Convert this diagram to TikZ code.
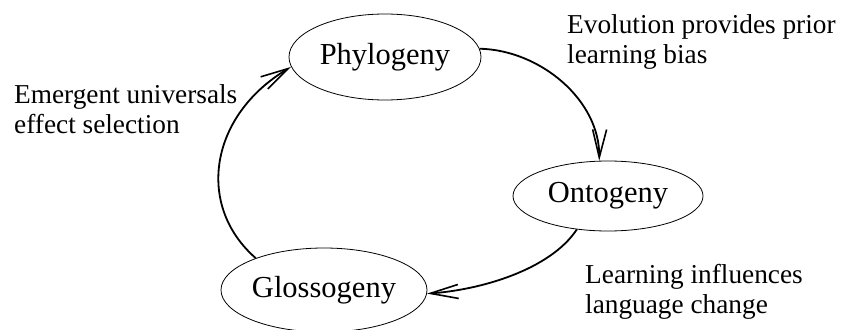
\documentclass[tikz,border=0pt]{standalone}
\usepackage{fontspec}
\setmainfont{Liberation Serif}
\usetikzlibrary{shapes.geometric,arrows.meta}
\begin{document}
\begin{tikzpicture}[x=1pt,y=1pt,
  stage/.style={draw,line width=0.8pt,ellipse,inner sep=0pt,font=\fontsize{30.5}{33}\selectfont},
  lbl/.style={anchor=north west,inner sep=0pt,align=left,font=\fontsize{27.3}{30}\selectfont},
  flow/.style={line width=1.8pt,-{Straight Barb[length=28pt,width=14pt,line width=1.6pt]}}]
\useasboundingbox (0,0) rectangle (842,-329);
\node[stage,minimum width=192pt,minimum height=86pt] (P) at (385,-57) {Phylogeny};
\node[stage,minimum width=190pt,minimum height=70pt] (O) at (608,-196) {Ontogeny};
\node[stage,minimum width=206pt,minimum height=84pt] (G) at (324,-290) {Glossogeny};
\draw[flow] (P.5) .. controls (540,-50) and (600,-100) .. (O.104);
\draw[flow] (O.227) .. controls (550,-270) and (480,-290) .. (G.-2);
\draw[flow] (G.155) .. controls (195,-205) and (210,-115) .. (P.186);
\node[lbl] (l1) at (567,-14.4) {Evolution provides prior\\learning bias};
\node[lbl] (l2) at (14,-84.4) {Emergent universals\\effect selection};
\node[lbl] (l3) at (585,-264.4) {Learning influences\\language change};
\end{tikzpicture}
\end{document}
